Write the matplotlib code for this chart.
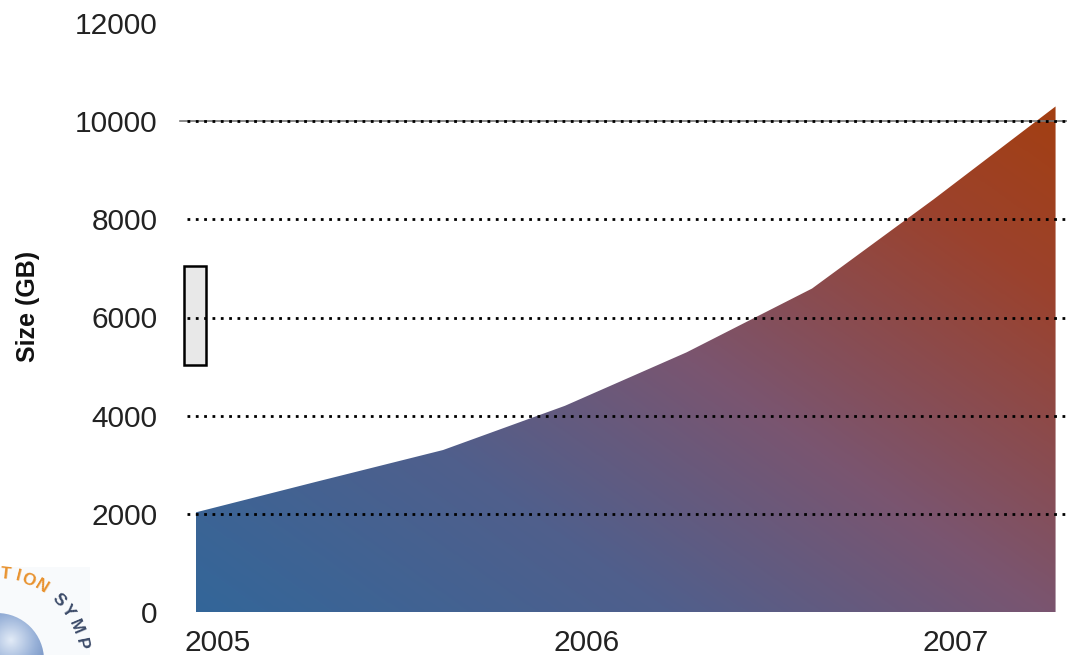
import numpy as np
import matplotlib
matplotlib.use("Agg")
import matplotlib.pyplot as plt
from matplotlib.colors import LinearSegmentedColormap
from matplotlib.patches import Rectangle, Circle, Polygon

plt.rcParams['font.family'] = ['Liberation Sans', 'DejaVu Sans']

# storage size, sampled every four months
period = [2004.94, 2005.27, 2005.61, 2005.94, 2006.27, 2006.61, 2006.94, 2007.27]
size_gb = [2030, 2660, 3300, 4200, 5290, 6590, 8410, 10300]

year_ticks = [2005, 2006, 2007]
size_ticks = [0, 2000, 4000, 6000, 8000, 10000, 12000]
grid_levels = [2000, 4000, 6000, 8000, 10000]

W, H = 1067, 655
fig = plt.figure(figsize=(W / 100, H / 100), dpi=100)
ax = fig.add_axes([187 / W, 43 / H, 880 / W, 589 / H])
ax.set_xlim(2004.916, 2007.301)
ax.set_ylim(0, 12000)

# area with a diagonal blue -> plum -> rust gradient
cmap = LinearSegmentedColormap.from_list(
    "storage", [(0.0, "#336699"), (0.30, "#505f8c"), (0.54, "#7a5570"),
                (0.83, "#9b422d"), (1.0, "#a33f12")])
x0, x1 = period[0], period[-1]
y1 = max(size_gb)
gx, gy = np.meshgrid(np.linspace(x0, x1, 500), np.linspace(0, y1, 400))
pts = ax.transData.transform(np.column_stack([gx.ravel(), gy.ravel()]))
px = pts[:, 0].reshape(gx.shape)
py = pts[:, 1].reshape(gy.shape)
px -= px.min()
py -= py.min()
d = np.array([np.cos(np.radians(55)), np.sin(np.radians(55))])
t = px * d[0] + py * d[1]
t = t / t.max()
img = ax.imshow(cmap(t), extent=[x0, x1, 0, y1], origin="lower",
                aspect="auto", interpolation="bilinear", zorder=1)
poly = Polygon(list(zip(period, size_gb)) + [(x1, 0), (x0, 0)],
               closed=True, facecolor="none", edgecolor="none")
ax.add_patch(poly)
img.set_clip_path(poly)

# dotted grid
ax.axhline(10000, xmin=-0.008, xmax=1, color="#777777", lw=1.2,
           clip_on=False, zorder=2)
for lv in grid_levels:
    ax.axhline(lv, color="black", lw=2.0, linestyle=(0, (1, 2)), zorder=3)

# empty legend key
ax.add_patch(Rectangle((184 / W, (H - 365) / H), 22 / W, 99 / H,
                       transform=fig.transFigure, facecolor="#e8e8e8",
                       edgecolor="black", lw=1.8, clip_on=False, zorder=2))

ax.set_xticks(year_ticks)
ax.set_xticklabels([str(y) for y in year_ticks])
ax.set_yticks(size_ticks)
ax.set_yticklabels([str(v) for v in size_ticks])
ax.tick_params(axis="both", length=0, labelsize=21.5, labelcolor="#222222")
ax.tick_params(axis="y", pad=21)
ax.tick_params(axis="x", pad=12)
for s in ax.spines.values():
    s.set_visible(False)

fig.text(28 / W, (H - 306) / H, "Size (GB)", rotation=90, fontsize=18,
         fontweight="bold", ha="center", va="center", color="#111111")

# symposium badge in the lower left corner
lax = fig.add_axes([0, 0, 100 / W, 100 / H])
lax.axis("off")
lax.add_patch(Rectangle((0, 0), 90, 88, facecolor="#f8fafc",
                        edgecolor="none", zorder=0))
cx, cy, r = -3, -5, 47
sx, sy = np.meshgrid(np.linspace(-60, 60, 200), np.linspace(-60, 60, 200))
dist = np.hypot(sx - 14, sy - 20) / 75
sphere = LinearSegmentedColormap.from_list(
    "sphere", ["#e2ebf7", "#98b1d8", "#5f7fb6", "#3f5f98"])(np.clip(dist, 0, 1))
simg = lax.imshow(sphere, extent=[cx - 60, cx + 60, cy - 60, cy + 60],
                  origin="lower", interpolation="bilinear", zorder=2)
disc = Circle((cx, cy), r, facecolor="none", edgecolor="none")
lax.add_patch(disc)
simg.set_clip_path(disc)
ring = [("T", 84, "#e8922e"), ("I", 76, "#e8922e"), ("O", 68.5, "#e8922e"),
        ("N", 58.5, "#e8922e"), ("S", 44, "#3b4a68"), ("Y", 35, "#3b4a68"),
        ("M", 23, "#3b4a68"), ("P", 11, "#3b4a68")]
for ch, ang, col in ring:
    a = np.radians(ang)
    lax.text(cx + 86 * np.cos(a), cy + 86 * np.sin(a), ch, rotation=ang - 90,
             ha="center", va="center", fontsize=12.5, fontweight="bold",
             color=col, clip_on=False, zorder=3)
lax.set_xlim(0, 100)
lax.set_ylim(0, 100)

fig.savefig("out.png", dpi=100)
